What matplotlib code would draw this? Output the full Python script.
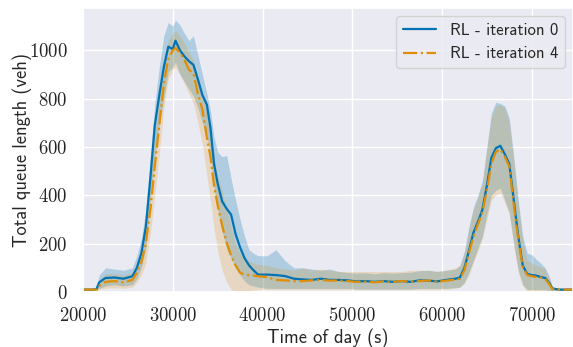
import matplotlib
matplotlib.use("Agg")
import matplotlib.pyplot as plt
import seaborn as sns

# time of day (s)
t = [20000, 21000, 21500, 21800, 22500, 23500, 24500, 25500, 26000, 26500,
     27000, 27500, 28000, 28500, 29000, 29500, 30000, 30300, 30800, 31300,
     31800, 32300, 32800, 33300, 33800, 34200, 34600, 35000, 35500, 36000,
     36500, 37000, 37500, 38000, 38500, 39000, 39500, 40500, 41500, 42500,
     43500, 44500, 45500, 46500, 47500, 48500, 49500, 50500, 51500, 52500,
     53500, 54500, 55500, 56500, 57500, 58500, 59500, 60500, 61500, 62000,
     62500, 63000, 63500, 64000, 64500, 65000, 65500, 66000, 66500, 67000,
     67500, 68000, 68500, 69000, 69500, 70000, 70500, 71000, 71500, 72000,
     72300, 73000, 74600]

# RL - iteration 0 (mean, lower, upper)
it0_mean = [10, 10, 12, 40, 58, 60, 55, 65, 100, 160,
            270, 470, 690, 815, 930, 1015, 1005, 1040, 1000, 975,
            955, 940, 880, 815, 775, 680, 530, 450, 375, 345,
            320, 240, 185, 140, 110, 90, 72, 72, 70, 66,
            55, 52, 50, 55, 50, 50, 48, 44, 45, 42,
            45, 42, 45, 42, 48, 47, 44, 50, 55, 60,
            100, 170, 245, 290, 340, 440, 555, 595, 605, 570,
            530, 380, 230, 110, 75, 70, 68, 62, 58, 35,
            15, 10, 10]
it0_lo = [5, 5, 8, 15, 25, 30, 25, 30, 55, 100,
          180, 380, 560, 690, 800, 910, 930, 950, 900, 870,
          840, 810, 760, 700, 650, 560, 430, 340, 250, 180,
          140, 100, 70, 45, 30, 25, 20, 15, 15, 15,
          15, 15, 15, 15, 15, 15, 15, 12, 12, 12,
          12, 12, 12, 12, 15, 15, 15, 15, 18, 20,
          40, 80, 130, 180, 230, 320, 400, 420, 430, 380,
          330, 200, 90, 30, 10, 10, 10, 10, 10, 5,
          5, 5, 5]
it0_hi = [15, 15, 18, 70, 100, 95, 90, 100, 150, 220,
          340, 560, 780, 930, 1060, 1115, 1100, 1125, 1105, 1070,
          1040, 1060, 980, 900, 820, 750, 640, 580, 560, 565,
          470, 380, 300, 230, 175, 160, 150, 150, 175, 130,
          100, 100, 95, 90, 95, 85, 80, 78, 80, 75,
          80, 78, 80, 82, 88, 90, 85, 90, 95, 110,
          170, 270, 350, 400, 460, 600, 740, 785, 780, 770,
          720, 560, 380, 230, 160, 155, 135, 120, 100, 60,
          20, 15, 15]

# RL - iteration 4 (mean, lower, upper)
it4_mean = [10, 10, 10, 25, 42, 45, 40, 50, 80, 125,
            200, 340, 520, 690, 860, 965, 1000, 1010, 990, 960,
            920, 905, 820, 755, 640, 560, 440, 360, 275, 205,
            150, 110, 80, 72, 70, 68, 65, 62, 50, 48,
            45, 45, 48, 50, 47, 48, 45, 42, 43, 40,
            44, 42, 45, 43, 45, 48, 42, 47, 52, 55,
            90, 160, 230, 280, 330, 420, 530, 580, 590, 560,
            520, 360, 215, 105, 70, 65, 62, 60, 55, 30,
            12, 10, 10]
it4_lo = [5, 5, 5, 10, 15, 18, 15, 20, 40, 70,
          120, 240, 400, 570, 760, 880, 920, 930, 900, 860,
          820, 780, 700, 610, 480, 380, 260, 170, 90, 40,
          10, 0, 0, 0, 5, 8, 10, 10, 10, 10,
          10, 10, 10, 10, 10, 10, 10, 10, 10, 10,
          10, 10, 10, 10, 10, 10, 10, 12, 15, 20,
          35, 70, 120, 170, 220, 300, 380, 400, 410, 370,
          320, 190, 80, 25, 5, 5, 5, 5, 5, 5,
          5, 5, 5]
it4_hi = [15, 15, 15, 50, 75, 75, 70, 80, 120, 180,
          280, 450, 650, 820, 960, 1040, 1070, 1080, 1060, 1030,
          990, 960, 880, 820, 740, 660, 560, 480, 420, 340,
          270, 200, 160, 140, 130, 120, 115, 110, 100, 95,
          90, 100, 90, 95, 90, 85, 85, 85, 85, 85,
          85, 85, 85, 90, 90, 90, 85, 90, 100, 110,
          160, 260, 340, 390, 450, 590, 720, 770, 775, 760,
          700, 540, 360, 210, 130, 120, 110, 105, 95, 50,
          18, 15, 15]

sns.set_theme(style="darkgrid", palette="colorblind")
plt.rcParams["axes.formatter.use_mathtext"] = True
pal = sns.color_palette("colorblind")

fig = plt.figure(figsize=(5.73, 3.47), dpi=100)
ax = fig.add_axes([0.1449, 0.1585, 0.8551, 0.8184])

ax.fill_between(t, it0_lo, it0_hi, color=pal[0], alpha=0.25, linewidth=0)
ax.fill_between(t, it4_lo, it4_hi, color=pal[1], alpha=0.2, linewidth=0)
ax.plot(t, it0_mean, color=pal[0], lw=1.6, label="RL - iteration 0")
ax.plot(t, it4_mean, color=pal[1], lw=1.6, ls="-.", label="RL - iteration 4")

ax.set_xlim(20000, 74600)
ax.set_ylim(0, 1175)
ax.set_xticks([20000, 30000, 40000, 50000, 60000, 70000])
ax.set_yticks([0, 200, 400, 600, 800, 1000])
for lab in ax.get_xticklabels() + ax.get_yticklabels():
    lab.set_family("cmr10")
    lab.set_fontsize(13.5)
ax.tick_params(axis="both", pad=5)

ax.set_xlabel("Time of day (s)", family="cmss10", fontsize=13.3, labelpad=2)
ax.set_ylabel("Total queue length (veh)", family="cmss10", fontsize=13.3, labelpad=-2)
ax.legend(loc="upper right", prop={"family": "cmss10", "size": 12})

fig.savefig("out.png", dpi=100)
